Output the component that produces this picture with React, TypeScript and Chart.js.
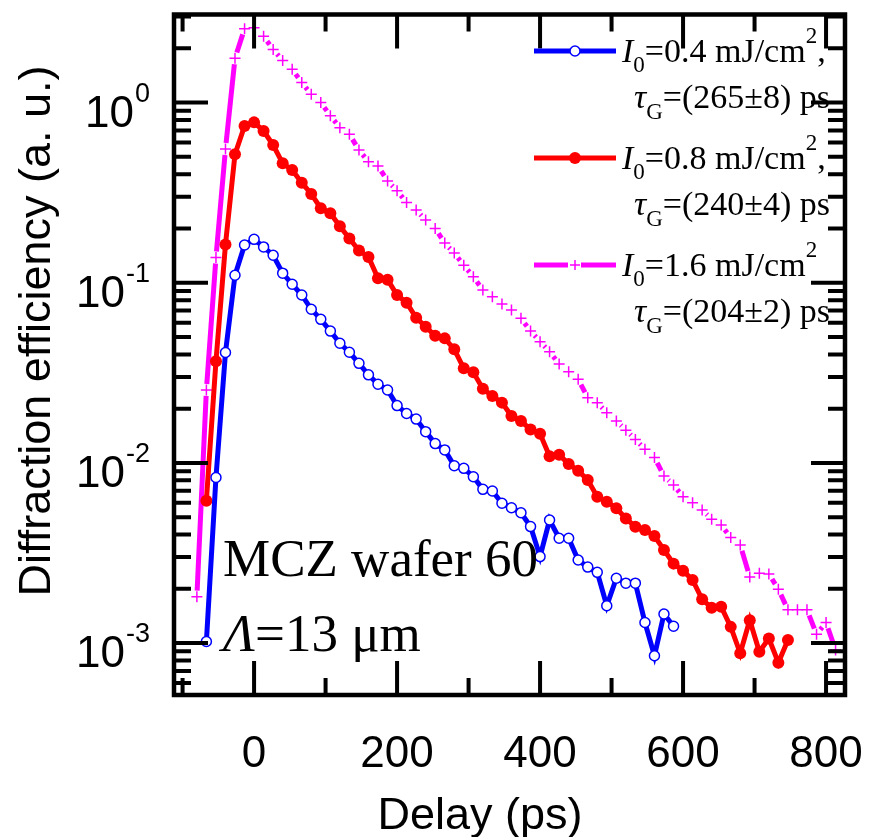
import React, { useEffect, useRef } from 'react';
import { Chart, registerables } from 'chart.js';

Chart.register(...registerables);

// Delay values (ps), 13.3 ps steps
const delays = [
  -80, -66.7, -53.3, -40, -26.7, -13.3, 0, 13.3, 26.7, 40, 53.3, 66.7, 80, 93.3, 106.7, 120,
  133.3, 146.7, 160, 173.3, 186.7, 200, 213.3, 226.7, 240, 253.3, 266.7, 280, 293.3, 306.7, 320,
  333.3, 346.7, 360, 373.3, 386.7, 400, 413.3, 426.7, 440, 453.3, 466.7, 480, 493.3, 506.7, 520,
  533.3, 546.7, 560, 573.3, 586.7, 600, 613.3, 626.7, 640, 653.3, 666.7, 680, 693.3, 706.7, 720,
  733.3, 746.7, 760, 773.3, 786.7, 800, 813.3,
];

// I0 = 0.4 mJ/cm2 (blue, open circles)
const blueValues = [
  0.00102, 0.0083, 0.041, 0.110, 0.162, 0.174, 0.158, 0.142, 0.113, 0.098,
  0.0855, 0.0712, 0.0626, 0.0539, 0.0461, 0.0411, 0.0357, 0.0308, 0.0273, 0.0254,
  0.0208, 0.0188, 0.0175, 0.0149, 0.0128, 0.0118, 0.00964, 0.00933, 0.00838, 0.00713,
  0.00698, 0.00597, 0.00564, 0.00529, 0.00443, 0.00302, 0.00482, 0.00382, 0.00382, 0.00289,
  0.00264, 0.00247, 0.00161, 0.00229, 0.00215, 0.00215, 0.00130, 0.000851, 0.00145, 0.00124,
];

// I0 = 0.8 mJ/cm2 (red, filled circles)
const redValues = [
  0.00617, 0.0367, 0.163, 0.516, 0.741, 0.776, 0.695, 0.581, 0.460, 0.422,
  0.359, 0.311, 0.259, 0.243, 0.206, 0.176, 0.151, 0.139, 0.106, 0.104,
  0.0855, 0.0774, 0.0639, 0.0570, 0.0508, 0.0491, 0.0427, 0.0335, 0.0318, 0.0258,
  0.0235, 0.0216, 0.0182, 0.0171, 0.0153, 0.0145, 0.0109, 0.0111, 0.00985, 0.00905,
  0.00804, 0.00649, 0.00609, 0.00560, 0.00492, 0.00442, 0.00424, 0.00393, 0.00329, 0.00276,
  0.00252, 0.00224, 0.00175, 0.00157, 0.00159, 0.00123, 0.000878, 0.00134, 0.000896, 0.00106,
  0.000778, 0.00104,
];

// I0 = 1.6 mJ/cm2 (magenta, crosses)
const magentaValues = [
  0.00181, 0.0254, 0.138, 0.552, 1.76, 2.57, 2.60, 2.33, 1.97, 1.71,
  1.53, 1.29, 1.11, 1.00, 0.845, 0.725, 0.667, 0.545, 0.469, 0.444,
  0.367, 0.324, 0.279, 0.253, 0.223, 0.200, 0.166, 0.146, 0.125, 0.108,
  0.0910, 0.0836, 0.0762, 0.0706, 0.0634, 0.0539, 0.0471, 0.0414, 0.0354, 0.0321,
  0.0291, 0.0230, 0.0216, 0.0190, 0.0171, 0.0152, 0.0135, 0.0119, 0.0107, 0.00846,
  0.00754, 0.00649, 0.00601, 0.00548, 0.00487, 0.00452, 0.00385, 0.00350, 0.00233, 0.00244,
  0.00242, 0.00199, 0.00153, 0.00153, 0.00153, 0.00112, 0.00130, 0.000916,
];

const xTickValues = [-100, 0, 100, 200, 300, 400, 500, 600, 700, 800];
const xTickLabels = ['0', '200', '400', '600', '800'];
const yDecades = [0, -1, -2, -3];
const legendIntensity = ['0.4', '0.8', '1.6'];
const legendTau = ['(265±8) ps', '(240±4) ps', '(204±2) ps'];
const legendComma = [',', ',', ''];
const COLORS = ['#0000FF', '#FF0000', '#FF00FF'];

const SANS = '"Liberation Sans", Arial, sans-serif';
const SERIF = '"Liberation Serif", "Times New Roman", serif';

type Run = { t: string; size: number; italic?: boolean; dy?: number; family?: string };

function drawRuns(ctx: CanvasRenderingContext2D, x: number, y: number, runs: Run[]) {
  let cx = x;
  for (const r of runs) {
    ctx.font = `${r.italic ? 'italic ' : ''}${r.size}px ${r.family || SERIF}`;
    ctx.fillText(r.t, cx, y + (r.dy || 0));
    cx += ctx.measureText(r.t).width;
  }
  return cx;
}

const decorPlugin = {
  id: 'decor',
  afterDraw(chart: any) {
    const ctx: CanvasRenderingContext2D = chart.ctx;
    const { left, right, top, bottom } = chart.chartArea;
    const xs = chart.scales.x;
    const ys = chart.scales.y;
    ctx.save();
    ctx.strokeStyle = '#000';
    ctx.fillStyle = '#000';
    ctx.lineCap = 'butt';

    // ticks
    ctx.lineWidth = 4;
    const MAJ = 34, MIN = 17;
    for (const v of xTickValues) {
      const px = xs.getPixelForValue(v);
      const len = v % 200 === 0 ? MAJ : MIN;
      ctx.beginPath();
      ctx.moveTo(px, bottom); ctx.lineTo(px, bottom - len);
      ctx.moveTo(px, top); ctx.lineTo(px, top + len);
      ctx.stroke();
    }
    for (let d = -4; d <= 0; d++) {
      for (let m = 1; m <= 9; m++) {
        const v = m * Math.pow(10, d);
        if (v < ys.min || v > ys.max) continue;
        const py = ys.getPixelForValue(v);
        const len = m === 1 ? MAJ : MIN;
        ctx.beginPath();
        ctx.moveTo(left, py); ctx.lineTo(left + len, py);
        ctx.moveTo(right, py); ctx.lineTo(right - len, py);
        ctx.stroke();
      }
    }
    // frame
    ctx.lineWidth = 4.5;
    ctx.strokeRect(left, top, right - left, bottom - top);

    // x tick labels
    ctx.font = `44px ${SANS}`;
    ctx.textAlign = 'center';
    ctx.textBaseline = 'alphabetic';
    for (const t of xTickLabels) {
      const px = xs.getPixelForValue(Number(t));
      ctx.fillText(t, px, 767);
    }
    // y tick labels
    for (const d of yDecades) {
      const py = ys.getPixelForValue(Math.pow(10, d));
      const sup = String(d);
      ctx.textAlign = 'right';
      ctx.font = `27px ${SANS}`;
      const sw = ctx.measureText(sup).width;
      ctx.fillText(sup, 150, py - 1);
      ctx.font = `44px ${SANS}`;
      ctx.fillText('10', 150 - sw - 1, py + 24);
    }
    // axis titles
    ctx.textAlign = 'center';
    ctx.font = `45px ${SANS}`;
    ctx.fillText('Delay (ps)', 480, 829);
    ctx.save();
    ctx.translate(50, 331);
    ctx.rotate(-Math.PI / 2);
    ctx.fillText('Diffraction efficiency (a. u.)', 0, 0);
    ctx.restore();

    // legend
    ctx.textAlign = 'left';
    for (let i = 0; i < 3; i++) {
      const ly = 51 + 107 * i;
      const col = COLORS[i];
      ctx.strokeStyle = col;
      ctx.lineWidth = 5;
      ctx.beginPath();
      if (i === 2) {
        ctx.moveTo(534, ly); ctx.lineTo(568, ly);
        ctx.moveTo(581, ly); ctx.lineTo(616, ly);
      } else {
        ctx.moveTo(534, ly); ctx.lineTo(616, ly);
      }
      ctx.stroke();
      if (i === 0) {
        ctx.fillStyle = '#fff';
        ctx.lineWidth = 1.5;
        ctx.beginPath(); ctx.arc(575, ly, 5, 0, Math.PI * 2); ctx.fill(); ctx.stroke();
      } else if (i === 1) {
        ctx.fillStyle = col;
        ctx.beginPath(); ctx.arc(575, ly, 6, 0, Math.PI * 2); ctx.fill();
      } else {
        ctx.lineWidth = 1.5;
        ctx.beginPath();
        ctx.moveTo(570, ly); ctx.lineTo(580, ly);
        ctx.moveTo(575, ly - 5); ctx.lineTo(575, ly + 5);
        ctx.stroke();
      }
      ctx.fillStyle = '#000';
      drawRuns(ctx, 622, 62 + 107 * i, [
        { t: 'I', size: 34, italic: true },
        { t: '0', size: 23, dy: 10 },
        { t: '=' + legendIntensity[i] + ' mJ/cm', size: 34 },
        { t: '2', size: 23, dy: -19 },
        { t: legendComma[i], size: 34 },
      ]);
      drawRuns(ctx, 634, 108 + 107 * i, [
        { t: 'τ', size: 34, italic: true },
        { t: 'G', size: 23, dy: 11 },
        { t: '=' + legendTau[i], size: 34 },
      ]);
    }

    // annotations
    ctx.fillStyle = '#000';
    drawRuns(ctx, 223, 576, [{ t: 'MCZ wafer 60', size: 53 }]);
    drawRuns(ctx, 223, 651, [
      { t: 'Λ', size: 53, italic: true },
      { t: '=13 μm', size: 53 },
    ]);
    ctx.restore();
  },
};

export default function App() {
  const ref = useRef<HTMLCanvasElement | null>(null);
  useEffect(() => {
    if (!ref.current) return;
    const blue = blueValues.map((v, i) => ({ x: delays[i + 1], y: v }));
    const red = redValues.map((v, i) => ({ x: delays[i + 1], y: v }));
    const magenta = magentaValues.map((v, i) => ({ x: delays[i], y: v }));
    const chart = new Chart(ref.current, {
      type: 'line',
      data: {
        datasets: [
          {
            label: 'I0=0.4',
            data: blue,
            borderColor: COLORS[0],
            borderWidth: 5,
            pointStyle: 'circle',
            pointRadius: 5,
            pointBackgroundColor: '#fff',
            pointBorderColor: COLORS[0],
            pointBorderWidth: 1.5,
            tension: 0,
          },
          {
            label: 'I0=0.8',
            data: red,
            borderColor: COLORS[1],
            borderWidth: 5,
            pointStyle: 'circle',
            pointRadius: 6,
            pointBackgroundColor: COLORS[1],
            pointBorderColor: COLORS[1],
            pointBorderWidth: 0,
            tension: 0,
          },
          {
            label: 'I0=1.6',
            data: magenta,
            borderColor: COLORS[2],
            borderWidth: 5,
            pointStyle: 'cross',
            pointRadius: 5.5,
            pointBackgroundColor: COLORS[2],
            pointBorderColor: COLORS[2],
            pointBorderWidth: 1.5,
            tension: 0,
            segment: {
              borderDash: (c: any) => {
                const d = Math.hypot(c.p1.x - c.p0.x, c.p1.y - c.p0.y);
                const g = 6;
                if (d <= 2 * g + 1) return [0, 10000 + c.p0DataIndex];
                return [0, g, d - 2 * g, 10000 + c.p0DataIndex];
              },
            },
          } as any,
        ],
      },
      options: {
        animation: false,
        responsive: false,
        devicePixelRatio: 1,
        layout: { padding: { left: 174, right: 869 - 845, top: 14.5, bottom: 837 - 695 } },
        plugins: { legend: { display: false }, tooltip: { enabled: false } },
        scales: {
          x: { type: 'linear', min: -112, max: 826.5, display: false },
          y: { type: 'logarithmic', min: 5.15e-4, max: 3.08, display: false },
        },
      },
      plugins: [decorPlugin],
    });
    return () => chart.destroy();
  }, []);
  return (
    <div style={{ position: 'absolute', left: 0, top: 0, width: 869, height: 837, background: '#fff' }}>
      <canvas ref={ref} width={869} height={837} />
    </div>
  );
}
